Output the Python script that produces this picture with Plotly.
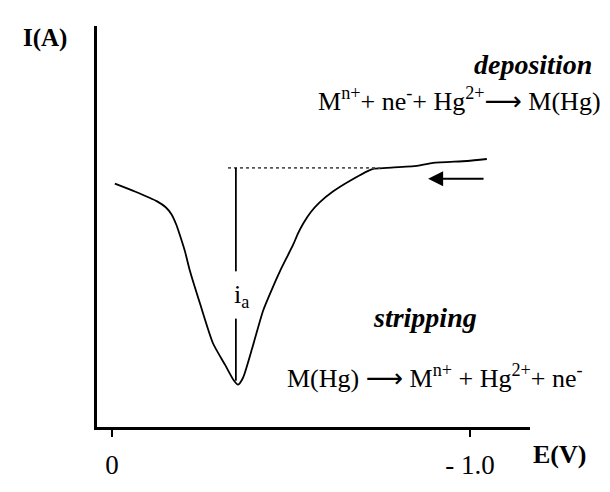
import plotly.graph_objects as go

# Voltammogram (E in V, I in arbitrary units)
E = [-0.008, -0.064, -0.126, -0.150, -0.166, -0.180, -0.192, -0.204, -0.218, -0.246,
     -0.282, -0.316, -0.339, -0.352, -0.366, -0.394, -0.422, -0.447, -0.469, -0.506,
     -0.519, -0.535, -0.555, -0.580, -0.617, -0.665, -0.729, -0.768, -0.852, -0.897,
     -0.992, -1.047]
I = [2.47, 2.39, 2.29, 2.23, 2.16, 2.05, 1.92, 1.78, 1.58, 1.25,
     0.85, 0.63, 0.48, 0.43, 0.50, 0.83, 1.18, 1.40, 1.58, 1.85,
     1.96, 2.07, 2.18, 2.28, 2.39, 2.50, 2.62, 2.63, 2.65, 2.68,
     2.70, 2.72]

# baseline (dotted) and peak-height marker
base_E = [-0.324, -0.749]
base_I = [2.63, 2.63]
peak_E = -0.346
peak_top_I = [2.63, 1.58]
peak_bot_I = [1.10, 0.47]

tick_vals = [0, -1.0]
tick_text = ["0", "- 1.0"]

# arrow (direction of scan)
arrow_tail = (-1.042, 2.52)
arrow_tip = (-0.883, 2.52)

FONT = "Liberation Serif"
ARROW = "<span style=\"font-family:'DejaVu Sans'\">\u27f6</span>"

fig = go.Figure()
fig.add_trace(go.Scatter(x=E, y=I, mode="lines", line_shape="spline",
                         line=dict(color="black", width=1.8, smoothing=0.6), hoverinfo="skip"))
fig.add_trace(go.Scatter(x=base_E, y=base_I, mode="lines",
                         line=dict(color="#555555", width=1.6, dash="dot"), hoverinfo="skip"))
fig.add_trace(go.Scatter(x=[peak_E, peak_E], y=peak_top_I, mode="lines",
                         line=dict(color="black", width=1.8), hoverinfo="skip"))
fig.add_trace(go.Scatter(x=[peak_E, peak_E], y=peak_bot_I, mode="lines",
                         line=dict(color="black", width=1.8), hoverinfo="skip"))

ann = []
ann.append(dict(x=arrow_tip[0], y=arrow_tip[1], ax=arrow_tail[0], ay=arrow_tail[1],
                xref="x", yref="y", axref="x", ayref="y", text="", showarrow=True,
                arrowhead=2, arrowsize=1.5, arrowwidth=2, arrowcolor="black"))
ann.append(dict(x=-0.362, y=1.33, xref="x", yref="y", text="i<sub>a</sub>",
                showarrow=False, font=dict(family=FONT, size=26, color="black")))

def txt(x, y, t, size, bold=False, italic=False):
    s = t
    if bold:
        s = "<b>" + s + "</b>"
    if italic:
        s = "<i>" + s + "</i>"
    return dict(x=x, y=y, xref="paper", yref="paper", text=s, showarrow=False,
                xanchor="center", yanchor="middle",
                font=dict(family=FONT, size=size, color="black"))

ann.append(txt(-0.120, 0.971, "I(A)", 25, bold=True))
ann.append(txt(1.069, -0.069, "E(V)", 26, bold=True))
ann.append(txt(1.007, 0.905, "deposition", 28, bold=True, italic=True))
ann.append(txt(0.838, 0.816, "M<sup>n+</sup>+ ne<sup>-</sup>+ Hg<sup>2+</sup>" + ARROW + " M(Hg)", 26))
ann.append(txt(0.757, 0.274, "stripping", 28, bold=True, italic=True))
ann.append(txt(0.781, 0.126, "M(Hg) " + ARROW + " M<sup>n+</sup> + Hg<sup>2+</sup>+ ne<sup>-</sup>", 26))

fig.update_layout(
    width=610, height=492,
    margin=dict(l=97, r=80, t=26, b=47),
    plot_bgcolor="white", paper_bgcolor="white",
    showlegend=False,
    annotations=ann,
    xaxis=dict(range=[0.0419, -1.1676], showline=True, linecolor="black", linewidth=2.5,
               showgrid=False, zeroline=False, ticks="outside", ticklen=7, tickwidth=2,
               tickcolor="black", tickvals=tick_vals, ticktext=tick_text,
               tickfont=dict(family=FONT, size=27, color="black"), ticklabelstandoff=5),
    yaxis=dict(range=[0, 4.07], showline=True, linecolor="black", linewidth=2.5,
               showgrid=False, zeroline=False, showticklabels=False, ticks=""),
)

fig.write_html("out.html")
